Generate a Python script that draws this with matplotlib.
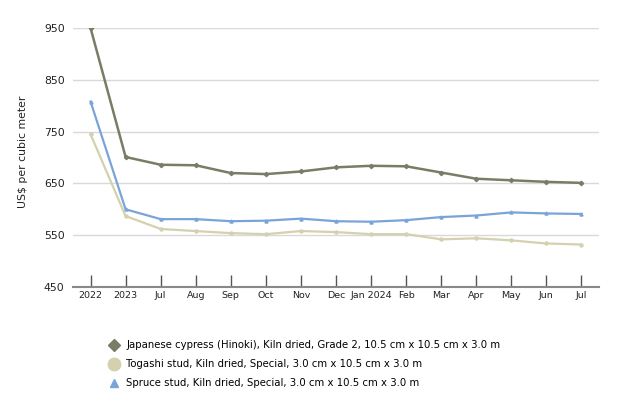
import matplotlib
matplotlib.use("Agg")
import matplotlib.pyplot as plt
from matplotlib.lines import Line2D

categories = ["2022", "2023", "Jul", "Aug", "Sep", "Oct", "Nov", "Dec",
              "Jan 2024", "Feb", "Mar", "Apr", "May", "Jun", "Jul"]
hinoki = [950, 701, 686, 685, 670, 668, 673, 681, 684, 683, 671, 659, 656, 653, 651]
togashi = [745, 587, 562, 558, 554, 552, 558, 556, 552, 552, 542, 544, 540, 534, 532]
spruce = [808, 600, 581, 581, 577, 578, 582, 577, 576, 579, 585, 588, 594, 592, 591]
labels = ["Japanese cypress (Hinoki), Kiln dried, Grade 2, 10.5 cm x 10.5 cm x 3.0 m",
          "Togashi stud, Kiln dried, Special, 3.0 cm x 10.5 cm x 3.0 m",
          "Spruce stud, Kiln dried, Special, 3.0 cm x 10.5 cm x 3.0 m"]
yticks = [450, 550, 650, 750, 850, 950]

c_hin = "#7a7d66"
c_tog = "#d3d1ae"
c_spr = "#7aa3d8"

plt.rcParams['font.family'] = ['Verdana', 'DejaVu Sans']
fig = plt.figure(figsize=(6.24, 4.08), dpi=100)
W, H = 624, 408
ax = fig.add_axes([73 / W, 1 - 287 / H, (599 - 73) / W, (287 - 28) / H])

x = list(range(len(categories)))
ax.plot(x, togashi, color=c_tog, lw=1.6, marker='o', ms=2.2, zorder=3)
ax.plot(x, spruce, color=c_spr, lw=1.6, marker='^', ms=2.2, zorder=3)
ax.plot(x, hinoki, color=c_hin, lw=1.8, marker='D', ms=2.2, zorder=3)

ax.set_xlim(-0.5, len(categories) - 0.5)
ax.set_ylim(450, 950)
ax.set_yticks(yticks)
ax.set_yticklabels([str(v) for v in yticks], fontsize=7.8, color="#222222")
ax.set_xticks(x)
ax.set_xticklabels(categories, fontsize=6.8, color="#222222")
ax.tick_params(axis='y', length=0, pad=6)
ax.tick_params(axis='x', direction='in', length=9, width=1, color="#555555", pad=3)
ax.yaxis.grid(True, color="#d9d9d9", lw=1)
ax.set_axisbelow(True)
for s in ['top', 'right', 'left']:
    ax.spines[s].set_visible(False)
ax.spines['bottom'].set_color("#888888")
ax.spines['bottom'].set_linewidth(1.5)
ax.set_ylabel("US$ per cubic meter", fontsize=7.8, color="#222222")
ax.yaxis.set_label_coords(-45 / (599 - 73), (287 - 152) / (287 - 28))

handles = [
    Line2D([], [], ls='none', marker='D', ms=6, color=c_hin),
    Line2D([], [], ls='none', marker='o', ms=9, color=c_tog),
    Line2D([], [], ls='none', marker='^', ms=6, color=c_spr),
]
fig.legend(handles, labels, loc='upper left', bbox_to_anchor=(102 / W, 1 - 336 / H),
           frameon=False, fontsize=7.3, handletextpad=0.5, labelspacing=0.9,
           handlelength=1.5, borderaxespad=0)

fig.savefig("out.png", dpi=100, facecolor="white")
